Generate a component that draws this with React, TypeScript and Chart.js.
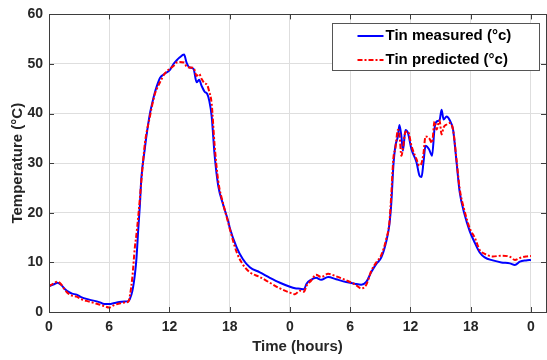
import React, { useEffect, useRef } from 'react';
import { Chart, registerables } from 'chart.js';

Chart.register(...registerables);

// Time axis (hours since start of the two-day record)
const hours = [
  0, 0.5, 0.85, 1.2, 1.6, 2.0, 2.3, 2.75, 3.2, 4.0,
  5.0, 5.5, 6.0, 6.5, 7.0, 7.5, 7.9, 8.05, 8.3, 8.55,
  8.7, 8.9, 9.05, 9.2, 9.55, 9.7, 10.05, 10.2, 10.55, 10.7,
  11.05, 11.5, 12.0, 12.4, 12.7, 13.0, 13.45, 13.7, 14.0, 14.4,
  14.7, 14.95, 15.2, 15.5, 15.75, 15.95, 16.2, 16.5, 16.85, 17.35,
  17.85, 18.0, 18.7, 19.3, 20.0, 21.0, 22.0, 23.0, 24.0, 24.5,
  25.0, 25.4, 25.65, 26.1, 26.6, 27.1, 27.8, 28.6, 29.6, 30.45,
  31.1, 31.6, 32.1, 32.6, 33.1, 33.6, 33.9, 34.1, 34.3, 34.5,
  34.75, 34.9, 35.1, 35.25, 35.5, 35.75, 36.1, 36.6, 36.9, 37.1,
  37.3, 37.5, 37.85, 38.15, 38.4, 38.6, 38.9, 39.1, 39.3, 39.6,
  39.9, 40.25, 40.6, 40.9, 41.4, 41.9, 42.4, 42.9, 43.4, 44.2,
  45.05, 45.9, 46.4, 46.9, 47.5, 48,
];

// Measured inside temperature (°C)
const measured = [
  5.2, 5.6, 5.9, 5.5, 4.6, 4.0, 3.7, 3.5, 3.0, 2.5,
  2.0, 1.6, 1.6, 1.8, 2.0, 2.1, 2.2, 2.6, 4.2, 7.5,
  10.5, 17, 21.5, 27, 33, 35.4, 40, 41.4, 44.3, 45.3,
  47.2, 48.0, 48.7, 50.0, 50.7, 51.3, 51.9, 50.3, 49.3, 49.0,
  46.3, 46.8, 45.6, 44.4, 44.0, 42.7, 39.5, 31.5, 25.5, 21.6,
  18.3, 17, 13, 10.7, 9.0, 8.0, 6.9, 5.9, 5.1, 4.8,
  4.7, 4.6, 5.7, 6.5, 6.9, 6.5, 7.05, 6.6, 6.05, 5.7,
  5.5, 6.05, 8.05, 9.7, 11, 14.3, 17.6, 22.2, 29.5, 33.5,
  35.4, 37.7, 35.4, 32.5, 36.7, 36.1, 32.8, 30.2, 27.5, 27.2,
  30.2, 33.5, 32.8, 31.5, 37.0, 38.4, 38.7, 40.8, 38.8, 39.4,
  38.7, 36.7, 30, 24.2, 19.6, 16.3, 14, 12, 11, 10.4,
  10.0, 9.8, 9.5, 10.15, 10.4, 10.5,
];

// Model-predicted inside temperature (°C)
const predicted = [
  5.2, 5.8, 6.1, 5.6, 4.4, 3.6, 3.3, 3.1, 2.6, 2.1,
  1.5, 1.2, 0.9, 1.4, 1.7, 1.9, 2.1, 3.2, 7, 13,
  15.5, 19.5, 22.9, 26.5, 34, 36, 39.4, 41, 44, 44.8,
  46.3, 48, 49, 49.6, 50.3, 50.4, 50.3, 49.5, 49.3, 49.2,
  47.6, 48, 47, 46.1, 45.8, 44.5, 42, 33.5, 26.5, 21.8,
  18, 16.8, 12, 9.6, 8.0, 7.05, 5.9, 4.75, 3.9, 3.6,
  4.3, 4.1, 5.3, 6.3, 7.5, 7.05, 7.7, 7.2, 6.4, 5.6,
  4.75, 5.5, 8.3, 10, 11.5, 14.8, 18, 24, 31, 33,
  36.7, 36, 31.5, 33, 36.3, 36.4, 33.5, 30.8, 29.5, 30,
  32, 35.4, 35.1, 34.1, 38.4, 36.8, 38.6, 35.8, 37.2, 37.8,
  38.1, 36.7, 30.5, 24.9, 20.3, 16.9, 15, 12.5, 11.7, 11.2,
  11.35, 11.15, 10.5, 10.9, 11.2, 11.3,
];

const xTickValues = [0, 6, 12, 18, 24, 30, 36, 42, 48];
const xTickLabels = ['0', '6', '12', '18', '0', '6', '12', '18', '0'];
const yTickValues = [0, 10, 20, 30, 40, 50, 60];

const seriesLabels = ['Tin measured (°c)', 'Tin predicted (°c)'];

const FONT = "'Liberation Sans', Arial, Helvetica, sans-serif";
const AXIS_COLOR = '#3d3d3d';
const TEXT_COLOR = '#262626';

// Axes box with inward tick marks on all four sides, plus a framed legend
const boxPlugin = {
  id: 'boxAndLegend',
  afterDraw(chart: any) {
    const { ctx, chartArea } = chart;
    const { left, right, top, bottom } = chartArea;
    const xs = chart.scales.x;
    const ys = chart.scales.y;
    const tick = 5;

    ctx.save();
    ctx.strokeStyle = AXIS_COLOR;
    ctx.lineWidth = 1;
    ctx.setLineDash([]);
    ctx.strokeRect(Math.round(left) + 0.5, Math.round(top) + 0.5, Math.round(right - left), Math.round(bottom - top));

    ctx.beginPath();
    xTickValues.forEach((v) => {
      const px = Math.round(xs.getPixelForValue(v)) + 0.5;
      ctx.moveTo(px, bottom);
      ctx.lineTo(px, bottom - tick);
      ctx.moveTo(px, top);
      ctx.lineTo(px, top + tick);
    });
    yTickValues.forEach((v) => {
      const py = Math.round(ys.getPixelForValue(v)) + 0.5;
      ctx.moveTo(left, py);
      ctx.lineTo(left + tick, py);
      ctx.moveTo(right, py);
      ctx.lineTo(right - tick, py);
    });
    ctx.stroke();

    // Legend box
    const bw = 207;
    const bh = 47;
    const bx = Math.round(right - 7 - bw) + 0.5;
    const by = Math.round(top + 9) + 0.5;
    ctx.fillStyle = '#ffffff';
    ctx.fillRect(bx, by, bw, bh);
    ctx.strokeStyle = '#555555';
    ctx.strokeRect(bx, by, bw, bh);

    ctx.font = `bold 15px ${FONT}`;
    ctx.textBaseline = 'middle';
    ctx.textAlign = 'left';
    chart.data.datasets.forEach((ds: any, i: number) => {
      const cy = by + 12.5 + i * 24;
      ctx.save();
      ctx.strokeStyle = ds.borderColor;
      ctx.lineWidth = ds.borderWidth;
      ctx.setLineDash(ds.borderDash || []);
      ctx.beginPath();
      ctx.moveTo(bx + 25, cy);
      ctx.lineTo(bx + 51, cy);
      ctx.stroke();
      ctx.restore();
      ctx.fillStyle = '#000000';
      ctx.fillText(ds.label, bx + 53, cy);
    });
    ctx.restore();
  },
};

export default function App() {
  const canvasRef = useRef<HTMLCanvasElement | null>(null);

  useEffect(() => {
    document.body.style.margin = '0';
    const canvas = canvasRef.current;
    if (!canvas) return;

    const chart = new Chart(canvas, {
      type: 'line',
      data: {
        datasets: [
          {
            label: seriesLabels[0],
            data: hours.map((h, i) => ({ x: h, y: measured[i] })),
            borderColor: '#0000ff',
            borderWidth: 2,
            pointRadius: 0,
            cubicInterpolationMode: 'monotone',
            fill: false,
            order: 1,
          },
          {
            label: seriesLabels[1],
            data: hours.map((h, i) => ({ x: h, y: predicted[i] })),
            borderColor: '#ff0000',
            borderWidth: 2,
            borderDash: [5, 2, 2, 2],
            pointRadius: 0,
            cubicInterpolationMode: 'monotone',
            fill: false,
            order: 0,
          },
        ],
      },
      options: {
        responsive: false,
        animation: false,
        events: [],
        layout: { padding: { top: 10, right: 1, left: 0, bottom: 0 } },
        plugins: {
          legend: { display: false },
          tooltip: { enabled: false },
        },
        scales: {
          x: {
            type: 'linear',
            min: 0,
            max: 49.5,
            afterFit: (scale: any) => {
              scale.height = 48;
            },
            afterBuildTicks: (scale: any) => {
              scale.ticks = xTickValues.map((v) => ({ value: v }));
            },
            ticks: {
              padding: 7,
              color: TEXT_COLOR,
              font: { family: FONT, size: 14, weight: 'bold' },
              maxRotation: 0,
              autoSkip: false,
              callback: (_v: any, idx: number) => xTickLabels[idx],
            },
            grid: { color: '#dedede', lineWidth: 1, drawTicks: false },
            border: { display: false },
            title: {
              display: true,
              text: 'Time (hours)',
              color: TEXT_COLOR,
              font: { family: FONT, size: 15, weight: 'bold' },
              padding: { top: 0, bottom: 4 },
            },
          },
          y: {
            type: 'linear',
            min: 0,
            max: 60,
            afterFit: (scale: any) => {
              scale.width = 49;
            },
            afterBuildTicks: (scale: any) => {
              scale.ticks = yTickValues.map((v) => ({ value: v }));
            },
            ticks: {
              padding: 6,
              color: TEXT_COLOR,
              font: { family: FONT, size: 14, weight: 'bold' },
            },
            grid: { color: '#dedede', lineWidth: 1, drawTicks: false },
            border: { display: false },
            title: {
              display: true,
              text: 'Temperature (°C)',
              color: TEXT_COLOR,
              font: { family: FONT, size: 15, weight: 'bold' },
              padding: { top: 9, bottom: 0 },
            },
          },
        },
      },
      plugins: [boxPlugin],
    });

    return () => chart.destroy();
  }, []);

  return (
    <div style={{ width: 547, height: 360, background: '#ffffff' }}>
      <canvas ref={canvasRef} width={547} height={360} />
    </div>
  );
}
